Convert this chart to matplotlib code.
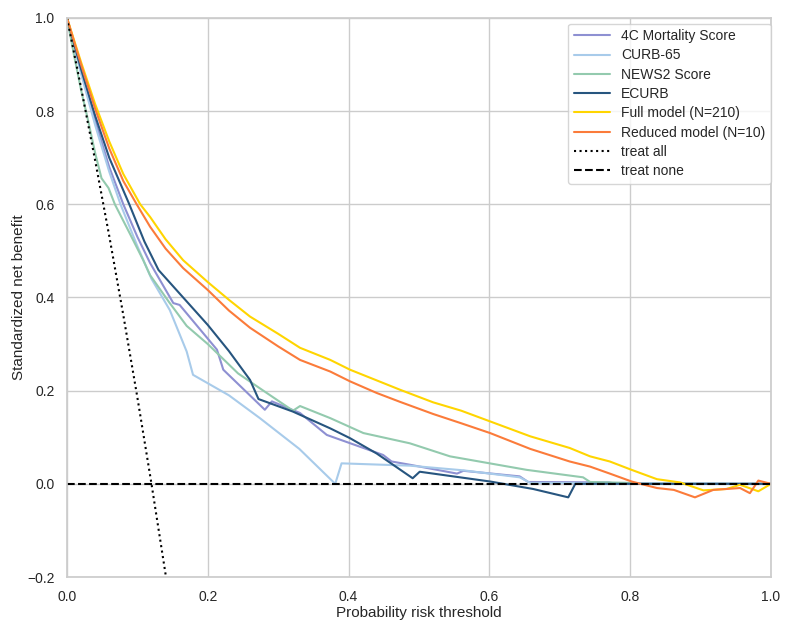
import matplotlib
matplotlib.use("Agg")
import matplotlib.pyplot as plt
import seaborn as sns

# thresholds / standardized net benefit
t_4c = [0.0, 0.02, 0.04, 0.06, 0.08, 0.1, 0.118, 0.151, 0.16, 0.213, 0.222, 0.281, 0.291,
        0.331, 0.369, 0.449, 0.461, 0.487, 0.554, 0.563, 0.643, 0.655, 0.77, 0.78, 1.0]
nb_4c = [1.0, 0.885, 0.78, 0.68, 0.60, 0.53, 0.474, 0.388, 0.384, 0.288, 0.245, 0.159, 0.177,
         0.152, 0.105, 0.062, 0.048, 0.041, 0.022, 0.028, 0.016, 0.004, 0.003, 0.0, 0.0]

t_curb = [0.0, 0.02, 0.04, 0.06, 0.076, 0.1, 0.12, 0.146, 0.17, 0.179, 0.23, 0.274, 0.33,
          0.381, 0.39, 0.487, 0.563, 0.643, 0.658, 1.0]
nb_curb = [1.0, 0.88, 0.77, 0.67, 0.60, 0.51, 0.44, 0.373, 0.284, 0.234, 0.19, 0.141, 0.075,
           0.0, 0.044, 0.039, 0.029, 0.014, 0.002, 0.0]

t_news = [0.0, 0.01, 0.02, 0.03, 0.04, 0.049, 0.059, 0.068, 0.09, 0.108, 0.118, 0.145, 0.17,
          0.2, 0.243, 0.274, 0.321, 0.331, 0.374, 0.421, 0.487, 0.544, 0.653, 0.733, 0.743,
          0.8, 0.81, 1.0]
nb_news = [1.0, 0.92, 0.845, 0.78, 0.71, 0.656, 0.635, 0.60, 0.535, 0.481, 0.448, 0.39, 0.339,
           0.30, 0.237, 0.205, 0.157, 0.167, 0.141, 0.109, 0.087, 0.059, 0.030, 0.014, 0.004,
           0.002, 0.0, 0.0]

t_ecurb = [0.0, 0.02, 0.04, 0.06, 0.0885, 0.11, 0.13, 0.165, 0.2, 0.23, 0.26, 0.272, 0.321,
           0.374, 0.402, 0.44, 0.491, 0.501, 0.601, 0.662, 0.712, 0.722, 1.0]
nb_ecurb = [1.0, 0.89, 0.79, 0.70, 0.60, 0.52, 0.459, 0.40, 0.341, 0.285, 0.223, 0.182, 0.155,
            0.119, 0.098, 0.065, 0.012, 0.026, 0.005, -0.011, -0.029, 0.0, 0.0]

t_full = [0.0, 0.02, 0.04, 0.06, 0.08, 0.104, 0.118, 0.14, 0.165, 0.2, 0.23, 0.26, 0.3, 0.331,
          0.374, 0.402, 0.44, 0.473, 0.52, 0.56, 0.601, 0.658, 0.714, 0.743, 0.771, 0.802,
          0.838, 0.871, 0.904, 0.937, 0.956, 0.982, 1.0]
nb_full = [1.0, 0.905, 0.815, 0.735, 0.665, 0.60, 0.573, 0.525, 0.48, 0.433, 0.395, 0.359,
           0.322, 0.292, 0.266, 0.245, 0.222, 0.202, 0.175, 0.157, 0.134, 0.102, 0.077, 0.059,
           0.048, 0.030, 0.010, 0.003, -0.014, -0.011, -0.002, -0.016, 0.0]

t_red = [0.0, 0.02, 0.04, 0.06, 0.08, 0.099, 0.118, 0.14, 0.165, 0.2, 0.23, 0.26, 0.3, 0.331,
         0.374, 0.402, 0.44, 0.473, 0.52, 0.56, 0.601, 0.658, 0.714, 0.743, 0.771, 0.802, 0.838,
         0.862, 0.892, 0.918, 0.956, 0.970, 0.982, 1.0]
nb_red = [1.0, 0.90, 0.805, 0.72, 0.65, 0.60, 0.552, 0.505, 0.463, 0.416, 0.372, 0.335, 0.295,
          0.266, 0.241, 0.22, 0.195, 0.176, 0.15, 0.13, 0.109, 0.075, 0.048, 0.037, 0.022,
          0.005, -0.009, -0.013, -0.029, -0.013, -0.009, -0.02, 0.007, 0.0]

t_all = [0.0, 0.02, 0.04, 0.06, 0.08, 0.10, 0.12, 0.14, 0.142]
nb_all = [1.0, 0.850, 0.694, 0.532, 0.362, 0.185, 0.0, -0.194, -0.214]

t_none = [0.0, 1.0]
nb_none = [0.0, 0.0]

sns.set_theme(style="whitegrid")
plt.rcParams['font.family'] = ['Liberation Sans', 'DejaVu Sans']

fig = plt.figure(figsize=(7.92, 6.24), dpi=100)
ax = fig.add_axes([0.0846, 0.0753, 0.8889, 0.8959])

lw = 1.5
ax.plot(t_4c, nb_4c, color="#8e90d2", lw=lw, label="4C Mortality Score")
ax.plot(t_curb, nb_curb, color="#a8cbea", lw=lw, label="CURB-65")
ax.plot(t_news, nb_news, color="#93caae", lw=lw, label="NEWS2 Score")
ax.plot(t_ecurb, nb_ecurb, color="#27557f", lw=lw, label="ECURB")
ax.plot(t_full, nb_full, color="#ffd500", lw=lw, label="Full model (N=210)")
ax.plot(t_red, nb_red, color="#fb7b3a", lw=lw, label="Reduced model (N=10)")
ax.plot(t_all, nb_all, color="black", lw=lw, ls=":", label="treat all")
ax.plot(t_none, nb_none, color="black", lw=lw, ls="--", label="treat none")

ax.set_xlim(0, 1)
ax.set_ylim(-0.2, 1.0)
ax.set_xticks([0.0, 0.2, 0.4, 0.6, 0.8, 1.0])
ax.set_yticks([-0.2, 0.0, 0.2, 0.4, 0.6, 0.8, 1.0])
ax.tick_params(labelsize=10, pad=3)
ax.set_xlabel("Probability risk threshold", fontsize=11, labelpad=2)
ax.set_ylabel("Standardized net benefit", fontsize=11, labelpad=1)
ax.legend(loc="upper right", bbox_to_anchor=(1.0, 0.99), borderaxespad=0,
          fontsize=10, frameon=True, handlelength=2.6, labelspacing=0.38)

fig.savefig("out.png", dpi=100)
